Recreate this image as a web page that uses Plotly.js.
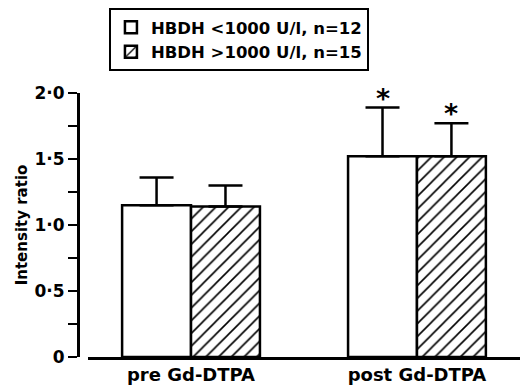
<!DOCTYPE html>
<html><head><meta charset="utf-8">
<script src="https://cdn.plot.ly/plotly-3.0.1.min.js"></script>
<style>html,body{margin:0;padding:0;background:#fff}#c{width:524px;height:389px}</style>
</head><body><div id="c"></div>
<script>
const categories = ["pre Gd-DTPA", "post Gd-DTPA"];
const seriesNames = ["HBDH <1000 U/l, n=12", "HBDH >1000 U/l, n=15"];
const lowValues = [1.15, 1.52];
const lowErrors = [0.21, 0.37];
const highValues = [1.14, 1.52];
const highErrors = [0.16, 0.25];
const significant = [[false, true], [false, true]];
const yTickVals = [0, 0.5, 1, 1.5, 2];
const yTickText = ["0", "0·5", "1·0", "1·5", "2·0"];

const font = "'DejaVu Sans', sans-serif";
const bargap = 0.39;
const err = (arr) => ({type: "data", array: arr, arrayminus: arr.map(() => 0), symmetric: false,
  color: "#000", thickness: 2.5, width: 17});

const traces = [
  {type: "bar", name: seriesNames[0], x: categories, y: lowValues, error_y: err(lowErrors),
   marker: {color: "#fff", line: {color: "#000", width: 2.5}}, cliponaxis: false, legendgroup: "a"},
  {type: "bar", name: seriesNames[1], x: categories, y: highValues, error_y: err(highErrors),
   marker: {color: "#fff", line: {color: "#000", width: 2.5},
     pattern: {shape: "/", fgcolor: "#000", bgcolor: "#fff", size: 9, solidity: 0.18}},
   cliponaxis: false, legendgroup: "b"}
];

const half = (1 - bargap) / 4;
const annotations = [];
[lowValues, highValues].forEach((vals, s) => {
  const errs = s === 0 ? lowErrors : highErrors;
  vals.forEach((v, i) => {
    if (significant[s][i]) {
      annotations.push({x: i + (s === 0 ? -half : half), y: v + errs[i], xref: "x", yref: "y",
        text: "<b>*</b>", showarrow: false, yanchor: "bottom", yshift: -8,
        font: {family: font, size: 27, color: "#000"}});
    }
  });
});

const layout = {
  width: 524, height: 389,
  margin: {l: 78, r: 4, t: 93, b: 32},
  paper_bgcolor: "#fff", plot_bgcolor: "#fff",
  barmode: "group", bargap: bargap, bargroupgap: 0,
  showlegend: true,
  legend: {x: 0.07, y: 1.322, xanchor: "left", yanchor: "top", bordercolor: "#000", borderwidth: 2,
    font: {family: font, size: 16.5, color: "#000", weight: "bold"}, tracegroupgap: 16, traceorder: "normal"},
  xaxis: {type: "category", range: [-0.456, 1.456], domain: [0.0226, 1], showline: true, linecolor: "#000",
    linewidth: 2.5, ticks: "", showgrid: false, zeroline: false,
    tickfont: {family: font, size: 18, color: "#000", weight: "bold"}},
  yaxis: {range: [0, 2], anchor: "free", position: 0, showline: true, linecolor: "#000", linewidth: 2.5,
    showgrid: false, zeroline: false, ticks: "outside", ticklen: 9, tickwidth: 2.5, tickcolor: "#000",
    tickvals: yTickVals, ticktext: yTickText,
    minor: {dtick: 0.25, ticks: "outside", ticklen: 9, tickwidth: 2.5, tickcolor: "#000", showgrid: false},
    tickfont: {family: font, size: 17, color: "#000", weight: "bold"},
    title: {text: "Intensity ratio", standoff: 2, font: {family: font, size: 15, color: "#000", weight: "bold"}}},
  annotations: annotations
};
Plotly.newPlot("c", traces, layout, {displayModeBar: false, staticPlot: true});
</script></body></html>
